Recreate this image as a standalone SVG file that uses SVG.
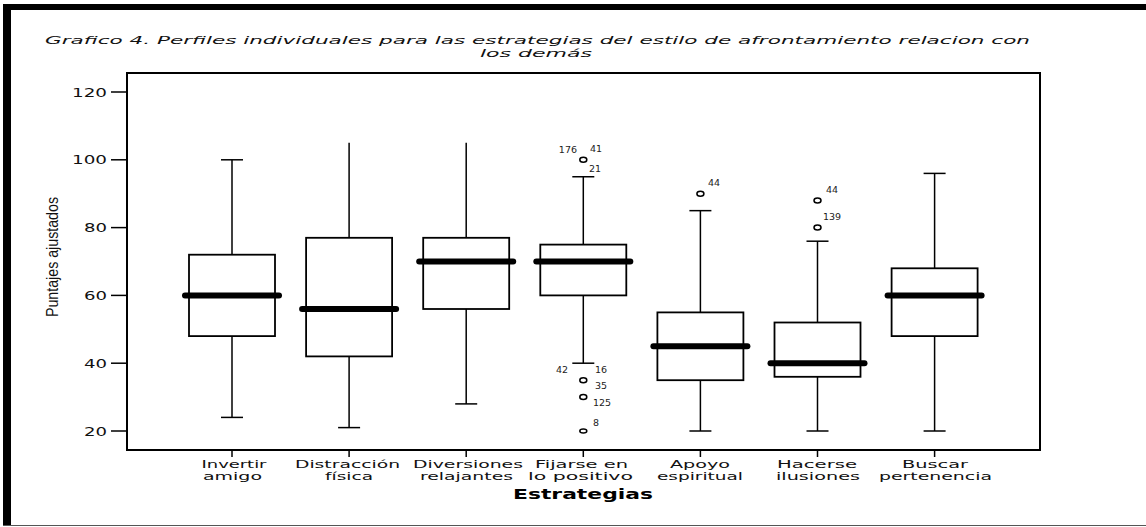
<svg xmlns="http://www.w3.org/2000/svg" width="1146" height="527" viewBox="0 0 1146 527">
<style>
.ttl{font-family:"DejaVu Sans","Liberation Sans",Arial,sans-serif;font-style:italic;font-size:11px;fill:#111}
.tick{font-family:"DejaVu Sans","Liberation Sans",Arial,sans-serif;font-size:13px;fill:#111}
.cat{font-family:"DejaVu Sans","Liberation Sans",Arial,sans-serif;font-size:11px;fill:#111;text-anchor:middle}
.out{font-family:"DejaVu Sans","Liberation Sans",Arial,sans-serif;font-size:9.5px;fill:#222}
.box{fill:#fff;stroke:#000;stroke-width:1.8}
.wh{stroke:#000;stroke-width:1.5;fill:none}
.med{stroke:#000;stroke-width:6;stroke-linecap:round}
.pt{fill:#fff;stroke:#000;stroke-width:1.5}
.ax{stroke:#000;stroke-width:1.5;fill:none}
</style>
<rect x="0" y="0" width="1146" height="527" fill="#fff"/>
<g id="page-frame">
<rect x="3" y="4" width="1143" height="6" fill="#000"/>
<rect x="3" y="4" width="8" height="522" fill="#000"/>
<line x1="3" y1="525.5" x2="1146" y2="525.5" stroke="#555" stroke-width="1"/>
</g>
<g id="title">
<text class="ttl" x="45" y="44" textLength="985" lengthAdjust="spacingAndGlyphs">Grafico 4. Perfiles individuales para las estrategias del estilo de afrontamiento relacion con</text>
<text class="ttl" x="480" y="57" textLength="112" lengthAdjust="spacingAndGlyphs">los demás</text>
</g>
<g id="axes">
<rect x="127" y="73" width="913" height="377" fill="none" stroke="#000" stroke-width="2"/>
<g class="ax">
<line x1="111" y1="92" x2="127" y2="92"/>
<line x1="111" y1="159.8" x2="127" y2="159.8"/>
<line x1="111" y1="227.6" x2="127" y2="227.6"/>
<line x1="111" y1="295.4" x2="127" y2="295.4"/>
<line x1="111" y1="363.2" x2="127" y2="363.2"/>
<line x1="111" y1="431" x2="127" y2="431"/>
<line x1="232" y1="450" x2="232" y2="457"/>
<line x1="349.1" y1="450" x2="349.1" y2="457"/>
<line x1="466.2" y1="450" x2="466.2" y2="457"/>
<line x1="583.3" y1="450" x2="583.3" y2="457"/>
<line x1="700.4" y1="450" x2="700.4" y2="457"/>
<line x1="817.5" y1="450" x2="817.5" y2="457"/>
<line x1="934.6" y1="450" x2="934.6" y2="457"/>
</g>
<g class="tick" text-anchor="end">
<text x="107" y="96.5" textLength="35" lengthAdjust="spacingAndGlyphs">120</text>
<text x="107" y="164.3" textLength="35" lengthAdjust="spacingAndGlyphs">100</text>
<text x="107" y="232.1" textLength="23" lengthAdjust="spacingAndGlyphs">80</text>
<text x="107" y="299.9" textLength="23" lengthAdjust="spacingAndGlyphs">60</text>
<text x="107" y="367.7" textLength="23" lengthAdjust="spacingAndGlyphs">40</text>
<text x="107" y="435.5" textLength="23" lengthAdjust="spacingAndGlyphs">20</text>
</g>
<text transform="translate(58,257) rotate(-90)" text-anchor="middle" font-family="Liberation Sans, Arial, sans-serif" font-size="17" fill="#111" textLength="120" lengthAdjust="spacingAndGlyphs">Puntajes ajustados</text>
<g id="x-labels">
<text class="cat" x="234" y="468" textLength="65" lengthAdjust="spacingAndGlyphs">Invertir</text>
<text class="cat" x="232.5" y="480" textLength="59" lengthAdjust="spacingAndGlyphs">amigo</text>
<text class="cat" x="347.5" y="468" textLength="105" lengthAdjust="spacingAndGlyphs">Distracción</text>
<text class="cat" x="349" y="480" textLength="48" lengthAdjust="spacingAndGlyphs">física</text>
<text class="cat" x="468" y="468" textLength="110" lengthAdjust="spacingAndGlyphs">Diversiones</text>
<text class="cat" x="466.5" y="480" textLength="93" lengthAdjust="spacingAndGlyphs">relajantes</text>
<text class="cat" x="581.5" y="468" textLength="93" lengthAdjust="spacingAndGlyphs">Fijarse en</text>
<text class="cat" x="580.5" y="480" textLength="105" lengthAdjust="spacingAndGlyphs">lo positivo</text>
<text class="cat" x="700" y="468" textLength="60" lengthAdjust="spacingAndGlyphs">Apoyo</text>
<text class="cat" x="700" y="480" textLength="86" lengthAdjust="spacingAndGlyphs">espiritual</text>
<text class="cat" x="817" y="468" textLength="80" lengthAdjust="spacingAndGlyphs">Hacerse</text>
<text class="cat" x="818" y="480" textLength="84" lengthAdjust="spacingAndGlyphs">ilusiones</text>
<text class="cat" x="935" y="468" textLength="66" lengthAdjust="spacingAndGlyphs">Buscar</text>
<text class="cat" x="935.5" y="480" textLength="113" lengthAdjust="spacingAndGlyphs">pertenencia</text>
</g>
<text x="583" y="499" text-anchor="middle" font-family="DejaVu Sans, Liberation Sans, Arial, sans-serif" font-size="13.5" font-weight="bold" fill="#000" textLength="140" lengthAdjust="spacingAndGlyphs">Estrategias</text>
</g>
<g id="connectors"></g>
<g id="box-invertir-amigo">
<line class="wh" x1="232" y1="159.8" x2="232" y2="417.4"/>
<line class="wh" x1="221" y1="159.8" x2="243" y2="159.8"/>
<line class="wh" x1="221" y1="417.4" x2="243" y2="417.4"/>
<rect class="box" x="189" y="254.7" width="86" height="81.4"/>
<line class="med" x1="185" y1="295.4" x2="279" y2="295.4"/>
</g>
<g id="box-distraccion-fisica">
<line class="wh" x1="349.1" y1="142.85" x2="349.1" y2="427.6"/>
<line class="wh" x1="338.1" y1="427.6" x2="360.1" y2="427.6"/>
<rect class="box" x="306.1" y="237.8" width="86" height="118.6"/>
<line class="med" x1="302.1" y1="309" x2="396.1" y2="309"/>
</g>
<g id="box-diversiones-relajantes">
<line class="wh" x1="466.2" y1="142.85" x2="466.2" y2="403.9"/>
<line class="wh" x1="455.2" y1="403.9" x2="477.2" y2="403.9"/>
<rect class="box" x="423.2" y="237.8" width="86" height="71.2"/>
<line class="med" x1="419.2" y1="261.5" x2="513.2" y2="261.5"/>
</g>
<g id="box-fijarse-positivo">
<line class="wh" x1="583.3" y1="176.75" x2="583.3" y2="363.2"/>
<line class="wh" x1="572.3" y1="176.75" x2="594.3" y2="176.75"/>
<line class="wh" x1="572.3" y1="363.2" x2="594.3" y2="363.2"/>
<rect class="box" x="540.3" y="244.6" width="86" height="50.8"/>
<line class="med" x1="536.3" y1="261.5" x2="630.3" y2="261.5"/>
<ellipse class="pt" cx="583.3" cy="159.8" rx="3.5" ry="2.5"/>
<ellipse class="pt" cx="583.3" cy="380.2" rx="3.5" ry="2.5"/>
<ellipse class="pt" cx="583.3" cy="397.1" rx="3.5" ry="2.5"/>
<ellipse class="pt" cx="583.3" cy="431" rx="3.5" ry="2"/>
<text class="out" x="577" y="153" text-anchor="end">176</text>
<text class="out" x="590" y="152">41</text>
<text class="out" x="589" y="172">21</text>
<text class="out" x="568" y="373" text-anchor="end">42</text>
<text class="out" x="595" y="373">16</text>
<text class="out" x="595" y="389">35</text>
<text class="out" x="593" y="406">125</text>
<text class="out" x="593" y="426">8</text>
</g>
<g id="box-apoyo-espiritual">
<line class="wh" x1="700.4" y1="210.65" x2="700.4" y2="431"/>
<line class="wh" x1="689.4" y1="210.65" x2="711.4" y2="210.65"/>
<line class="wh" x1="689.4" y1="431" x2="711.4" y2="431"/>
<rect class="box" x="657.4" y="312.4" width="86" height="67.8"/>
<line class="med" x1="653.4" y1="346.25" x2="747.4" y2="346.25"/>
<ellipse class="pt" cx="700.4" cy="193.7" rx="3.5" ry="2.5"/>
<text class="out" x="708" y="186">44</text>
</g>
<g id="box-hacerse-ilusiones">
<line class="wh" x1="817.5" y1="241.2" x2="817.5" y2="431"/>
<line class="wh" x1="806.5" y1="241.2" x2="828.5" y2="241.2"/>
<line class="wh" x1="806.5" y1="431" x2="828.5" y2="431"/>
<rect class="box" x="774.5" y="322.5" width="86" height="54.3"/>
<line class="med" x1="770.5" y1="363.2" x2="864.5" y2="363.2"/>
<ellipse class="pt" cx="817.5" cy="200.5" rx="3.5" ry="2.5"/>
<ellipse class="pt" cx="817.5" cy="227.6" rx="3.5" ry="2.5"/>
<text class="out" x="826" y="193">44</text>
<text class="out" x="823" y="220">139</text>
</g>
<g id="box-buscar-pertenencia">
<line class="wh" x1="934.6" y1="173.4" x2="934.6" y2="431"/>
<line class="wh" x1="923.6" y1="173.4" x2="945.6" y2="173.4"/>
<line class="wh" x1="923.6" y1="431" x2="945.6" y2="431"/>
<rect class="box" x="891.6" y="268.3" width="86" height="67.8"/>
<line class="med" x1="887.6" y1="295.4" x2="981.6" y2="295.4"/>
</g>
</svg>
